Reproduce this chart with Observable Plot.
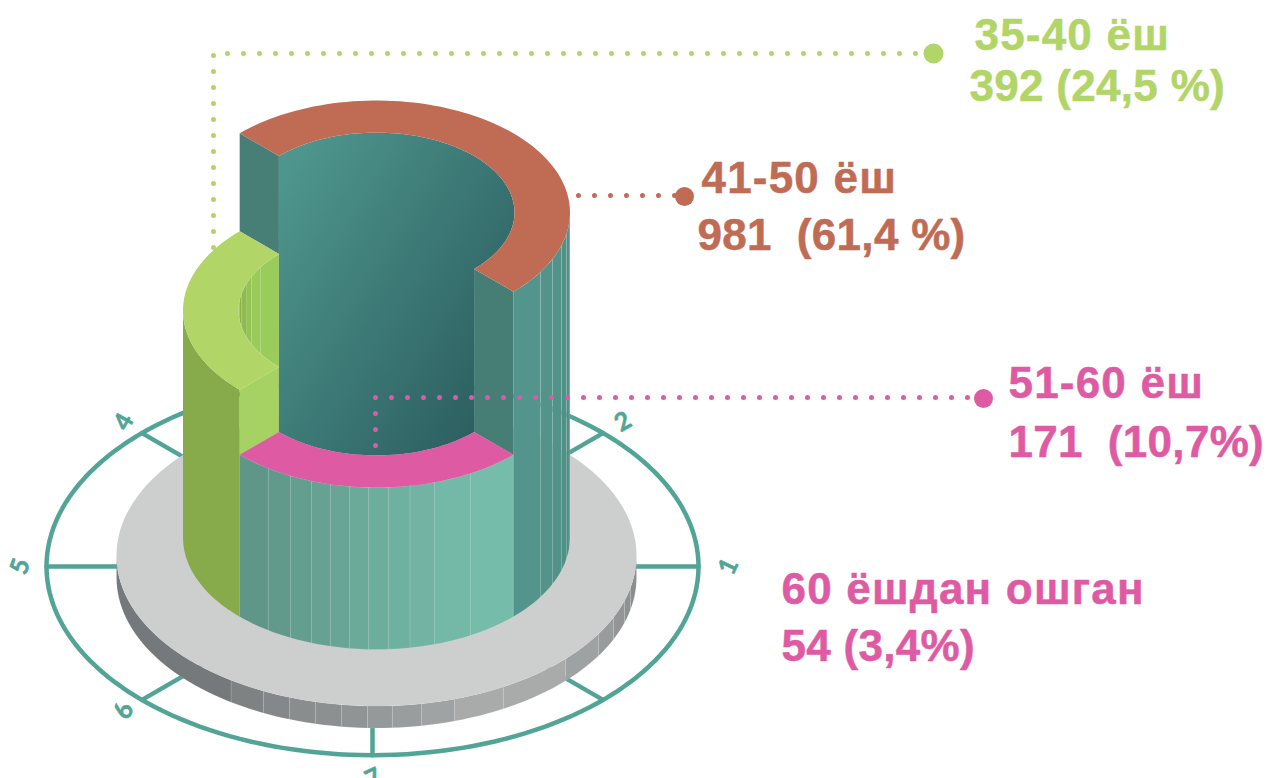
<!DOCTYPE html>
<html><head><meta charset="utf-8">
<style>html,body{margin:0;padding:0;background:#fff;overflow:hidden}svg{display:block}svg text{white-space:pre}.big1 text{letter-spacing:1.2px}.big2 text{letter-spacing:.3px}</style>
<script src="https://cdn.jsdelivr.net/npm/d3@7"></script>
<script src="https://cdn.jsdelivr.net/npm/@observablehq/plot@0.6"></script>
</head><body><div id="chart"></div>
<script>
// --- data
const ageGroups = ["35-40 ёш", "41-50 ёш", "51-60 ёш", "60 ёшдан ошган"];
const counts = ["392", "981 ", "171 ", "54"];
const shares = ["(24,5 %)", "(61,4 %)", "(10,7%)", "(3,4%)"];
const ringLabels = ["1", "2", "4", "5", "6", "7"];
const ringTickAngles = [0, -45, -135, 180, 135, 90, 45];
const ringLabelAngles = [0, -45, -135, 180, 135, 90];

// --- drawing layout
const groupColors = ["#b1d566", "#c06b54", "#de5ba3", "#de5ba3"];
const teal = "#52a496";
const K = 112 / 193.5;
const CX = 376, BASE = 537, R = 193.5, RI = 138;
const LEVEL = {red: 212, green: 310, pink: 375};
const pt = (cy, r, a, cx = CX) => [cx + r * Math.cos(a * Math.PI / 180), cy + r * K * Math.sin(a * Math.PI / 180)];
const arc = (cy, r, a0, a1, cx = CX) => {
  const n = Math.max(2, Math.ceil(Math.abs(a1 - a0) / 2)), out = [];
  for (let i = 0; i <= n; ++i) out.push(pt(cy, r, a0 + (a1 - a0) * i / n, cx));
  return out;
};
const xy = {x: d => d[0], y: d => d[1]};
const shape = (points, fill, o = {}) => Plot.line(points, {...xy, fill, stroke: "none", curve: "linear", ...o});
const ringBand = (cy, a0, a1, fill) => shape([...arc(cy, R, a0, a1), ...arc(cy, RI, a1, a0)], fill);
const wall = (topCy, botCy, r, a0, a1, fill, extra = {}) =>
  shape([...arc(topCy, r, a0, a1), ...arc(botCy, r, a1, a0), pt(topCy, r, a0)], fill, extra);
const seam = {stroke: "#ffffff", strokeOpacity: 0.14, strokeWidth: 0.7};

// facet boundaries (degrees round the cylinder) and their shades
const frontStops = [135, 124, 116.4, 109.6, 103.8, 98, 92.4, 86.4, 80, 72.5, 61, 45];
const frontShade = d3.interpolateRgb("#5f9688", "#76bcaa");
const rightStops = [45, 32, 24.6, 17, 11, 5, 0];
const rightFills = ["#53958c", "#52948a", "#519389", "#4f9187", "#4d8f85", "#4b8c82"];
const discStops = [180, 124, 115.8, 109.5, 103.6, 97.7, 92, 86.5, 80, 72.5, 60.8, 43.3, 31.4, 24.3, 17.5, 12.3, 0];
const discFills = ["#75797b", "#7f8283", "#85888a", "#8a8d8e", "#8d9091", "#919495", "#96999a", "#9a9d9e", "#a0a3a3", "#a9abaa", "#a9abaa", "#9fa2a3", "#999c9d", "#939697", "#8f9293", "#8b8e8f"];
const hollowStops = [180, 173, 168, 160, 155, 147, 135];
const hollowFills = ["#86a949", "#8aae4c", "#90ba50", "#94c454", "#99cb5a", "#9acc5b"];

const defs = () => {
  const d = d3.create("svg:defs");
  const g = d.append("linearGradient").attr("id", "core").attr("x1", "0.02").attr("y1", "0.08").attr("x2", "0.95").attr("y2", "0.85");
  g.append("stop").attr("offset", "0").attr("stop-color", "#4f978e");
  g.append("stop").attr("offset", "1").attr("stop-color", "#2b5d5f");
  return d.node();
};

const marks = [defs];

// outer ring
marks.push(Plot.line([...arc(566, 326, 0, 360, 372)], {...xy, stroke: teal, strokeWidth: 4.5, curve: "linear"}));
ringTickAngles.forEach(a => marks.push(Plot.line([pt(566, 326, a, 372), pt(566, 200, a, 372)], {...xy, stroke: teal, strokeWidth: 4.5})));
const rotations = [-65, -30, -60, -70, -70, -25];
const labelRadius = [355, 353, 353, 353, 353, 366];
ringLabels.forEach((t, i) => {
  const p = pt(566, labelRadius[i], ringLabelAngles[i], 373);
  marks.push(Plot.text([t], {x: () => p[0], y: () => p[1], text: d => d, fill: teal, stroke: teal, strokeWidth: 0.6, fontSize: 25, fontWeight: 700, fontFamily: "Lato", rotate: rotations[i]}));
});

// base disc
for (let i = 0; i < discFills.length; ++i) marks.push(wall(555, 577, 260, discStops[i], discStops[i + 1], discFills[i], seam));
marks.push(shape(arc(555, 260, 0, 360), "#cdcfce"));

// green leader sits behind the cylinder
marks.push(Plot.line([[213, 247], [213, 53], [925, 53]], {...xy, stroke: groupColors[0], strokeWidth: 5, strokeDasharray: "0 16", strokeLinecap: "round"}));

// cylinder walls
marks.push(wall(LEVEL.green, BASE, R, 135, 180, "#87ab4b"));
for (let i = 0; i < frontStops.length - 1; ++i)
  marks.push(wall(LEVEL.pink, BASE, R, frontStops[i], frontStops[i + 1], frontShade(i / (frontStops.length - 2)), seam));
for (let i = 0; i < rightFills.length; ++i)
  marks.push(wall(LEVEL.red, BASE, R, rightStops[i], rightStops[i + 1], rightFills[i], seam));

// cut faces
const cut = (topCy, botCy, a, fill) => shape([pt(topCy, R, a), pt(topCy, RI, a), pt(botCy, RI, a), pt(botCy, R, a)], fill);
marks.push(cut(LEVEL.red, LEVEL.green, 225, "#477f77"));
marks.push(cut(LEVEL.red, LEVEL.pink, 45, "#467e75"));
marks.push(cut(LEVEL.green, LEVEL.pink, 135, "#a6d263"));

// hollow seen through the green band
for (let i = 0; i < hollowFills.length; ++i) {
  const a0 = hollowStops[i], a1 = hollowStops[i + 1];
  marks.push(shape([...arc(LEVEL.green, RI, -a0, -a1), ...arc(LEVEL.green, RI, a1, a0)], hollowFills[i], seam));
}

// dark core
marks.push(shape([...arc(LEVEL.red, RI, 225, 405), ...arc(LEVEL.pink, RI, 45, 135)], "url(#core)"));

// top bands
marks.push(ringBand(LEVEL.green, 135, 225, groupColors[0]));
marks.push(ringBand(LEVEL.red, 225, 405, groupColors[1]));
marks.push(ringBand(LEVEL.pink, 45, 135, groupColors[2]));

// leaders
marks.push(Plot.line([[578, 195], [676, 195]], {...xy, stroke: groupColors[1], strokeWidth: 5, strokeDasharray: "0 16", strokeLinecap: "round"}));
marks.push(Plot.line([[375, 445], [375, 397], [975, 397]], {...xy, stroke: groupColors[2], strokeWidth: 5, strokeDasharray: "0 16", strokeLinecap: "round"}));
[[933, 53, 0, 10], [684, 196, 1, 9.5], [983, 398, 2, 9.5]].forEach(([x, y, c, r]) =>
  marks.push(Plot.dot([[x, y]], {...xy, r, fill: groupColors[c], stroke: "none"})));

// labels
const labelAt = [[974, 49, 969, 100], [701, 192, 697, 249], [1008, 397, 1008, 456], [781, 603, 781, 660]];
ageGroups.forEach((g, i) => {
  const [x1, y1, x2, y2] = labelAt[i];
  const common = {textAnchor: "start", lineAnchor: "bottom", fontSize: 44, fontWeight: 700, fontFamily: "Liberation Sans", fill: groupColors[i], stroke: groupColors[i], strokeWidth: 0.5};
  marks.push(Plot.text([g], {...common, className: "big1", x: () => x1, y: () => y1, text: d => d}));
  marks.push(Plot.text([`${counts[i]} ${shares[i]}`], {...common, className: "big2", x: () => x2, y: () => y2, text: d => d}));
});

document.getElementById("chart").append(Plot.plot({
  width: 1268, height: 778, margin: 0,
  style: {background: "#fff", overflow: "hidden"},
  x: {domain: [0, 1268], range: [0, 1268], axis: null},
  y: {domain: [0, 778], range: [0, 778], axis: null},
  marks
}));
</script></body></html>
